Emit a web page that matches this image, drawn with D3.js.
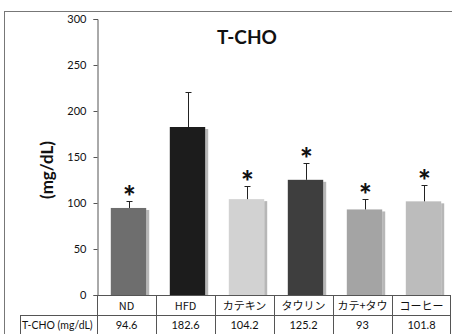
<!DOCTYPE html>
<html>
<head>
<meta charset="utf-8">
<script src="https://cdn.jsdelivr.net/npm/d3@7"></script>
<style>
  body { margin: 0; background: #fff; }
  svg { display: block; }
  text { font-family: Lato, "Noto Sans CJK JP", sans-serif; fill: #111; }
  .jp { font-family: "Noto Sans CJK JP", Lato, sans-serif; }
</style>
</head>
<body>
<div id="chart"></div>
<script>
// data
const groups = ["ND", "HFD", "カテキン", "タウリン", "カテ+タウ", "コーヒー"];
const means = [94.6, 182.6, 104.2, 125.2, 93, 101.8];
const errors = [7.5, 38, 14.3, 18.3, 11.3, 17.8];
const signif = [true, false, true, true, true, true];
const tableLabels = ["94.6", "182.6", "104.2", "125.2", "93", "101.8"];
const yTicks = [0, 50, 100, 150, 200, 250, 300];
const shades = ["#6e6e6e", "#1c1c1c", "#d2d2d2", "#3e3e3e", "#a4a4a4", "#bcbcbc"];

const w = 452, h = 334;
const plotL = 97, plotR = 451, plotT = 19, base = 295;
const rowH = 20;

const svg = d3.select("#chart").append("svg")
  .attr("width", w)
  .attr("height", h);

// outer frame
svg.append("rect")
  .attr("x", 4.5).attr("y", 11.5)
  .attr("width", 460).attr("height", 340)
  .attr("fill", "none")
  .attr("stroke", "#777");

const x = d3.scaleBand()
  .domain(groups)
  .range([plotL, plotR])
  .paddingInner(0.4)
  .paddingOuter(0.2);

const xCell = d3.scaleBand()
  .domain(groups)
  .range([plotL, plotR]);

const y = d3.scaleLinear()
  .domain([0, 300])
  .range([base, plotT]);

// y axis
const yAxis = d3.axisLeft(y).tickValues(yTicks).tickSize(4).tickPadding(7);
const gy = svg.append("g")
  .attr("transform", `translate(${plotL + 0.5},0)`)
  .call(yAxis);
gy.select(".domain").attr("stroke", "#555");
gy.selectAll(".tick line").attr("stroke", "#555");
gy.selectAll(".tick text")
  .style("font-family", "Lato, sans-serif")
  .style("font-size", "11px")
  .attr("fill", "#111");

// bars with a soft shadow on the right side
const bars = svg.append("g");
bars.selectAll("rect.shadow")
  .data(groups)
  .join("rect")
  .attr("class", "shadow")
  .attr("x", d => x(d) + 2 + x.bandwidth())
  .attr("y", (d, i) => y(means[i]) + 2)
  .attr("width", 3)
  .attr("height", (d, i) => base - y(means[i]) - 2)
  .attr("fill", "#999")
  .attr("opacity", 0.7);

bars.selectAll("rect.bar")
  .data(groups)
  .join("rect")
  .attr("class", "bar")
  .attr("x", d => x(d) + 2)
  .attr("y", (d, i) => y(means[i]))
  .attr("width", x.bandwidth())
  .attr("height", (d, i) => base - y(means[i]))
  .attr("fill", (d, i) => shades[i]);

// error bars (upper only) and significance marks
const err = svg.append("g").attr("stroke", "#222").attr("stroke-width", 1);
groups.forEach((g, i) => {
  const cx = Math.round(x(g) + 2 + x.bandwidth() / 2) + 0.5;
  const capY = Math.round(y(means[i] + errors[i])) + 0.5;
  err.append("line")
    .attr("x1", cx).attr("x2", cx)
    .attr("y1", y(means[i])).attr("y2", capY);
  err.append("line")
    .attr("x1", cx - 3).attr("x2", cx + 3)
    .attr("y1", capY).attr("y2", capY);
  if (signif[i]) {
    svg.append("text")
      .attr("x", cx)
      .attr("y", capY + 6)
      .attr("text-anchor", "middle")
      .style("font-size", "30px")
      .style("font-weight", "900")
      .text("*");
  }
});

// baseline
svg.append("line")
  .attr("x1", plotL).attr("x2", plotR)
  .attr("y1", base + 0.5).attr("y2", base + 0.5)
  .attr("stroke", "#555");

// data table below the axis
const table = svg.append("g").attr("stroke", "#555").attr("fill", "none");
table.append("line")
  .attr("x1", 20).attr("x2", plotR)
  .attr("y1", base + rowH + 0.5).attr("y2", base + rowH + 0.5);
table.append("line")
  .attr("x1", 20.5).attr("x2", 20.5)
  .attr("y1", base + rowH).attr("y2", h);
groups.forEach(g => {
  table.append("line")
    .attr("x1", Math.round(xCell(g)) + 0.5).attr("x2", Math.round(xCell(g)) + 0.5)
    .attr("y1", base).attr("y2", h);
});
table.append("line")
  .attr("x1", plotR - 0.5).attr("x2", plotR - 0.5)
  .attr("y1", base).attr("y2", h);

svg.append("g").selectAll("text")
  .data(groups)
  .join("text")
  .attr("class", "jp")
  .attr("x", d => xCell(d) + xCell.bandwidth() / 2)
  .attr("y", base + 14.5)
  .attr("text-anchor", "middle")
  .style("font-size", "11px")
  .text(d => d);

svg.append("g").selectAll("text")
  .data(groups)
  .join("text")
  .attr("x", d => xCell(d) + xCell.bandwidth() / 2)
  .attr("y", base + rowH + 14)
  .attr("text-anchor", "middle")
  .style("font-size", "11px")
  .text((d, i) => tableLabels[i]);

svg.append("text")
  .attr("x", 22)
  .attr("y", base + rowH + 14)
  .style("font-size", "10.5px")
  .text("T-CHO (mg/dL)");

// title
svg.append("text")
  .attr("x", 247)
  .attr("y", 44)
  .attr("text-anchor", "middle")
  .style("font-size", "19px")
  .style("font-weight", "bold")
  .text("T-CHO");

// y label
svg.append("text")
  .attr("transform", `translate(53,170) rotate(-90)`)
  .attr("text-anchor", "middle")
  .style("font-size", "17px")
  .style("font-weight", "bold")
  .text("(mg/dL)");
</script>
</body>
</html>
